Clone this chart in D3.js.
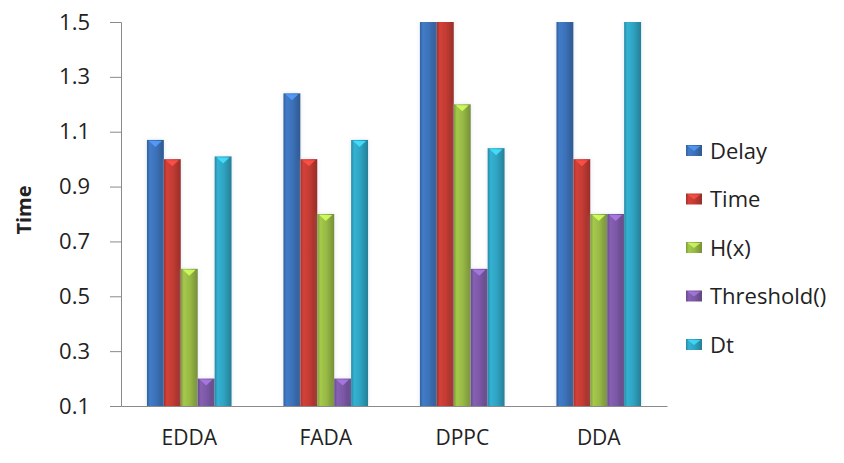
<!DOCTYPE html>
<html>
<head>
<meta charset="utf-8">
<script src="https://cdn.jsdelivr.net/npm/d3@7"></script>
<style>
  html, body { margin: 0; padding: 0; background: #fff; }
  svg { display: block; }
  text { font-family: "Open Sans", "Liberation Sans", sans-serif; fill: #222; }
</style>
</head>
<body>
<svg id="chart" width="844" height="463"></svg>
<script>
// Methods on the x axis
const categories = ["EDDA", "FADA", "DPPC", "DDA"];
// Series names in legend order
const seriesNames = ["Delay", "Time", "H(x)", "Threshold()", "Dt"];
const seriesColors = ["#3c71b8", "#c23b33", "#97b845", "#7b58a5", "#2fa3c1"];
// Values per series, one entry per category (bars above 1.5 run off the top)
const delay     = [1.07, 1.24, 1.60, 1.60];
const timeVals  = [1.00, 1.00, 1.60, 1.00];
const hx        = [0.60, 0.80, 1.20, 0.80];
const threshold = [0.20, 0.20, 0.60, 0.80];
const dt        = [1.01, 1.07, 1.04, 1.60];
const seriesValues = [delay, timeVals, hx, threshold, dt];
// Y axis ticks
const yTicks = [0.1, 0.3, 0.5, 0.7, 0.9, 1.1, 1.3, 1.5];

const svg = d3.select("#chart");
const plotLeft = 121, plotRight = 667, plotTop = 22, plotBottom = 406;

const x = d3.scaleBand().domain(categories).range([plotLeft, plotRight])
  .paddingInner(0.38).paddingOuter(0.19);
const xs = d3.scaleBand().domain(seriesNames).range([0, x.bandwidth()]).padding(0);
const y = d3.scaleLinear().domain([0.1, 1.5]).range([plotBottom, plotTop]);

// Gradients giving each bar a rounded, shaded look
const defs = svg.append("defs");
seriesNames.forEach((s, i) => {
  const c = d3.color(seriesColors[i]);
  const g = defs.append("linearGradient").attr("id", "g" + i)
    .attr("x1", "0%").attr("x2", "100%").attr("y1", "0%").attr("y2", "0%");
  g.append("stop").attr("offset", "0%").attr("stop-color", c.darker(0.5));
  g.append("stop").attr("offset", "18%").attr("stop-color", c.brighter(0.25));
  g.append("stop").attr("offset", "55%").attr("stop-color", c);
  g.append("stop").attr("offset", "100%").attr("stop-color", c.darker(0.7));
});
defs.append("clipPath").attr("id", "plotClip")
  .append("rect").attr("x", plotLeft).attr("y", plotTop)
  .attr("width", plotRight - plotLeft).attr("height", plotBottom - plotTop);
defs.append("filter").attr("id", "soft")
  .attr("x", "-30%").attr("y", "-10%").attr("width", "160%").attr("height", "120%")
  .append("feDropShadow").attr("dx", 0).attr("dy", 0).attr("stdDeviation", 2)
  .attr("flood-color", "#9fb4d0").attr("flood-opacity", 0.35);

// Bars
const rows = [];
categories.forEach((cat, ci) => {
  seriesNames.forEach((s, si) => rows.push({ cat, s, si, v: seriesValues[si][ci] }));
});
const plot = svg.append("g").attr("clip-path", "url(#plotClip)");
const bars = plot.selectAll("g.bar").data(rows).join("g").attr("class", "bar")
  .attr("filter", "url(#soft)");
bars.append("rect")
  .attr("x", d => x(d.cat) + xs(d.s))
  .attr("y", d => y(d.v))
  .attr("width", xs.bandwidth())
  .attr("height", d => plotBottom - y(d.v))
  .attr("fill", d => `url(#g${d.si})`);
// Light bevel caps on bars whose tops are visible
bars.filter(d => d.v <= 1.5).append("path")
  .attr("d", d => {
    const x0 = x(d.cat) + xs(d.s), w = xs.bandwidth(), t = y(d.v);
    return `M${x0 + 2},${t + 1}L${x0 + w - 2},${t + 1}L${x0 + w / 2},${t + 7}Z`;
  })
  .attr("fill", d => d3.color(seriesColors[d.si]).brighter(0.9))
  .attr("opacity", 0.9);

// Axes
const yAxis = d3.axisLeft(y).tickValues(yTicks).tickFormat(d3.format(".1f"))
  .tickSize(11).tickPadding(20);
const gy = svg.append("g").attr("transform", `translate(${plotLeft},0)`).call(yAxis);
gy.select(".domain").attr("stroke", "#8a8a8a");
gy.selectAll(".tick line").attr("stroke", "#8a8a8a");
gy.selectAll(".tick text").attr("font-size", 22).attr("fill", "#222")
  .attr("font-family", "'Open Sans', sans-serif");

const xAxis = d3.axisBottom(x).tickSize(0).tickPadding(24);
const gx = svg.append("g").attr("transform", `translate(0,${plotBottom})`).call(xAxis);
gx.select(".domain").attr("stroke", "#8a8a8a");
gx.selectAll(".tick text").attr("font-size", 21).attr("fill", "#222")
  .attr("font-family", "'Open Sans', sans-serif");

// Y axis title
svg.append("text")
  .attr("transform", `translate(24,210) rotate(-90)`)
  .attr("text-anchor", "middle").attr("dy", "0.35em")
  .attr("font-size", 20).attr("font-weight", "bold")
  .text("Time");

// Legend
const legend = svg.append("g").attr("transform", "translate(686,151)");
const items = legend.selectAll("g").data(seriesNames).join("g")
  .attr("transform", (d, i) => `translate(0,${i * 48.5})`);
items.append("rect").attr("x", 0).attr("y", -6).attr("width", 16).attr("height", 11)
  .attr("fill", (d, i) => `url(#g${i})`);
items.append("path").attr("d", "M1.5,-5L14.5,-5L8,0Z")
  .attr("fill", (d, i) => d3.color(seriesColors[i]).brighter(0.9)).attr("opacity", 0.8);
items.append("text").attr("x", 24).attr("y", 0).attr("dy", "0.35em")
  .attr("font-size", 22).text(d => d);
</script>
</body>
</html>
